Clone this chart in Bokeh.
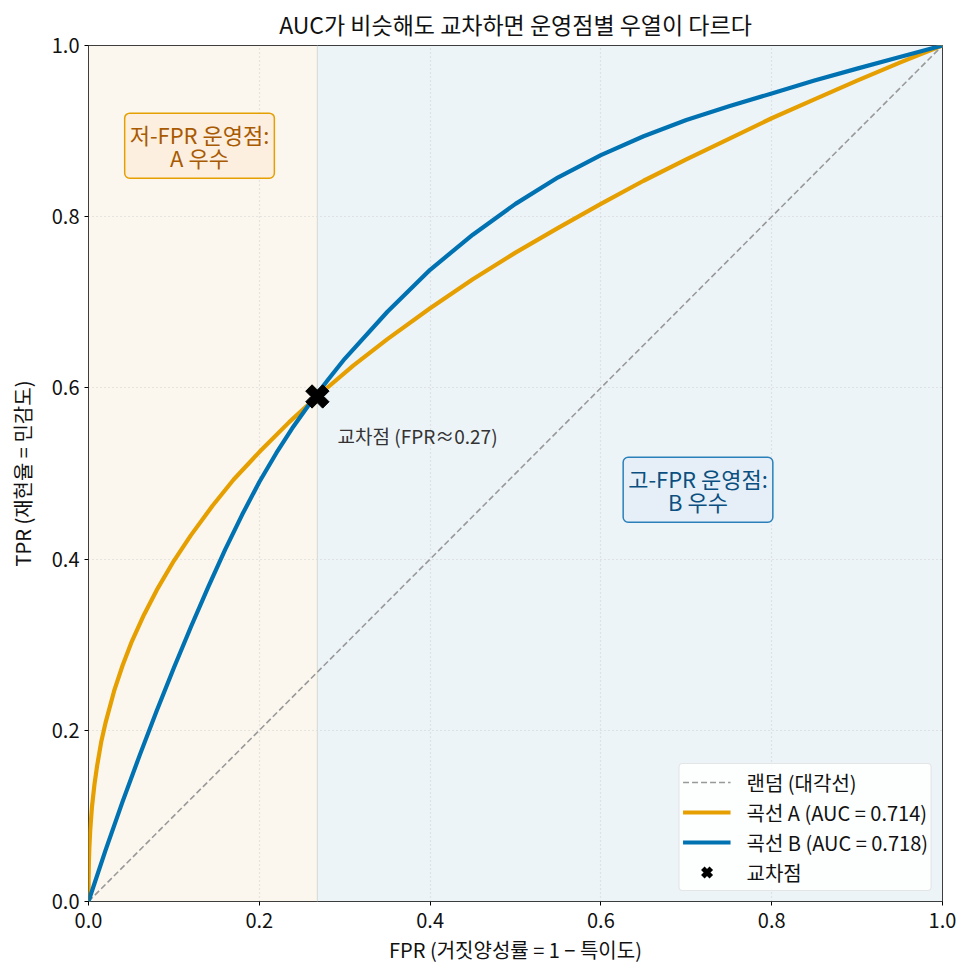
from bokeh.plotting import figure
from bokeh.models import (Range1d, BoxAnnotation, Span, Label, Legend, LegendItem,
                          FixedTicker, NumeralTickFormatter)
from bokeh.embed import file_html
from bokeh.resources import INLINE

FONT = "Noto Sans CJK KR"

# ---- data ----
diag_x = [0.0, 1.0]
diag_y = [0.0, 1.0]

fpr_a = [0.0, 0.0001, 0.0005, 0.001, 0.002, 0.004, 0.007, 0.01, 0.015, 0.02, 0.03, 0.04,
         0.05, 0.065, 0.08, 0.10, 0.12, 0.145, 0.17, 0.20, 0.235, 0.27, 0.31, 0.35, 0.40,
         0.45, 0.50, 0.55, 0.60, 0.65, 0.70, 0.75, 0.80, 0.85, 0.90, 0.95, 1.0]
tpr_a = [0.0, 0.025, 0.048, 0.063, 0.083, 0.110, 0.137, 0.158, 0.187, 0.209, 0.246, 0.276,
         0.302, 0.335, 0.364, 0.398, 0.428, 0.462, 0.493, 0.525, 0.560, 0.592, 0.626, 0.657,
         0.693, 0.727, 0.758, 0.787, 0.815, 0.842, 0.867, 0.891, 0.915, 0.937, 0.959, 0.980,
         1.0]

fpr_b = [0.0, 0.02, 0.04, 0.06, 0.08, 0.10, 0.12, 0.14, 0.16, 0.18, 0.20, 0.22, 0.24, 0.26,
         0.28, 0.30, 0.35, 0.40, 0.45, 0.50, 0.55, 0.60, 0.65, 0.70, 0.75, 0.80, 0.85, 0.90,
         0.95, 1.0]
tpr_b = [0.0, 0.060, 0.117, 0.171, 0.223, 0.273, 0.321, 0.367, 0.411, 0.452, 0.490, 0.524,
         0.555, 0.583, 0.609, 0.634, 0.689, 0.738, 0.779, 0.815, 0.846, 0.872, 0.894, 0.913,
         0.929, 0.944, 0.959, 0.973, 0.9865, 1.0]

cross_x = [0.268]
cross_y = [0.590]

ticks = [0.0, 0.2, 0.4, 0.6, 0.8, 1.0]

labels = {
    "title": "AUC가 비슷해도 교차하면 운영점별 우열이 다르다",
    "x": "FPR (거짓양성률 = 1 − 특이도)",
    "y": "TPR (재현율 = 민감도)",
    "diag": "랜덤 (대각선)",
    "a": "곡선 A (AUC = 0.714)",
    "b": "곡선 B (AUC = 0.718)",
    "cross": "교차점",
    "cross_note": "교차점 (FPR≈0.27)",
    "low": "저-FPR 운영점:\nA 우수",
    "high": "고-FPR 운영점:\nB 우수",
}

p = figure(width=970, height=977, x_range=Range1d(0, 1), y_range=Range1d(0, 1),
           output_backend="svg", toolbar_location=None,
           min_border_left=88, min_border_right=28, min_border_top=45, min_border_bottom=76)

p.title.text = labels["title"]
p.title.align = "center"
p.title.text_font = FONT
p.title.text_font_size = "23px"
p.title.text_font_style = "normal"
p.title.text_color = "#111111"
p.title.standoff = 9

p.background_fill_color = "white"
p.border_fill_color = "white"
p.outline_line_color = "black"
p.outline_line_width = 1

# background regions
p.add_layout(BoxAnnotation(left=0, right=cross_x[0], fill_color="#FBF7EE", fill_alpha=1.0,
                           line_color=None, level="image"))
p.add_layout(BoxAnnotation(left=cross_x[0], right=1, fill_color="#EDF4F8", fill_alpha=1.0,
                           line_color=None, level="image"))
p.add_layout(Span(location=cross_x[0], dimension="height", line_color="#D9DDD8",
                  line_width=1.2, level="underlay"))

# axes
for ax in (p.xaxis[0], p.yaxis[0]):
    ax.ticker = FixedTicker(ticks=ticks)
    ax.formatter = NumeralTickFormatter(format="0.0")
    ax.axis_line_color = None
    ax.major_tick_out = 4
    ax.major_tick_in = 0
    ax.minor_tick_line_color = None
    ax.major_tick_line_color = "black"
    ax.major_label_text_font = FONT
    ax.major_label_text_font_size = "20px"
    ax.major_label_text_color = "#111111"
    ax.axis_label_text_font = FONT
    ax.axis_label_text_font_size = "20px"
    ax.axis_label_text_font_style = "normal"
    ax.axis_label_text_color = "#111111"
p.xaxis.axis_label = labels["x"]
p.yaxis.axis_label = labels["y"]
p.xaxis.axis_label_standoff = 4
p.yaxis.axis_label_standoff = 12
p.xaxis.major_label_standoff = 7
p.yaxis.major_label_standoff = 5

for g in (p.xgrid[0], p.ygrid[0]):
    g.ticker = FixedTicker(ticks=ticks)
    g.grid_line_color = "#CCCCCC"
    g.grid_line_dash = "1 3"
    g.grid_line_width = 1.2
    g.grid_line_alpha = 0.9

# glyphs
r_diag = p.line(diag_x, diag_y, line_color="#999999", line_width=1.6, line_dash="6 3")
r_a = p.line(fpr_a, tpr_a, line_color="#E69F00", line_width=4.2, line_join="round")
r_b = p.line(fpr_b, tpr_b, line_color="#0072B2", line_width=4.2, line_join="round")
r_x = p.scatter(cross_x, cross_y, marker="plus", size=24, angle=0.785398,
                fill_color="black", line_color="black")
# legend proxy (no data drawn): thick X so the legend shows the same shape
r_x_legend = p.scatter([float("nan")], [float("nan")], marker="x", size=22,
                       line_color="black", line_width=5)

# notes
p.add_layout(Label(x=0.2916, y=0.544, text=labels["cross_note"], text_align="left",
                   text_baseline="middle", text_font=FONT, text_font_size="19px",
                   text_color="#333333"))

lprops = Label.properties()
def boxlabel(x, y, text, color, fill, border):
    kw = dict(x=x, y=y, text=text, text_align="center", text_baseline="middle",
              text_font=FONT, text_font_size="22px", text_color=color,
              background_fill_color=fill, background_fill_alpha=1.0,
              border_line_color=border, border_line_width=1.5)
    if "padding" in lprops:
        kw["padding"] = 5
    if "border_radius" in lprops:
        kw["border_radius"] = 5
    if "text_line_height" in lprops:
        kw["text_line_height"] = 0.72
    return Label(**kw)

p.add_layout(boxlabel(0.13, 0.883, labels["low"], "#A85A00", "#FDEFE0", "#E69F00"))
p.add_layout(boxlabel(0.7137, 0.481, labels["high"], "#0B4F80", "#E6EFF7", "#2A80BA"))

legend = Legend(items=[
    LegendItem(label=labels["diag"], renderers=[r_diag]),
    LegendItem(label=labels["a"], renderers=[r_a]),
    LegendItem(label=labels["b"], renderers=[r_b]),
    LegendItem(label=labels["cross"], renderers=[r_x_legend]),
], location="bottom_right")
legend.label_text_font = FONT
legend.label_text_font_size = "20px"
legend.label_text_color = "#111111"
legend.glyph_width = 48
legend.glyph_height = 30
legend.label_height = 20
legend.spacing = 0
legend.padding = 3
legend.label_standoff = 16
legend.margin = 10
legend.border_line_color = "#CCCCCC"
legend.border_line_width = 1
legend.background_fill_color = "white"
legend.background_fill_alpha = 0.85
if "border_radius" in Legend.properties():
    legend.border_radius = 4
p.add_layout(legend)

open("out.html", "w").write(file_html(p, INLINE))
